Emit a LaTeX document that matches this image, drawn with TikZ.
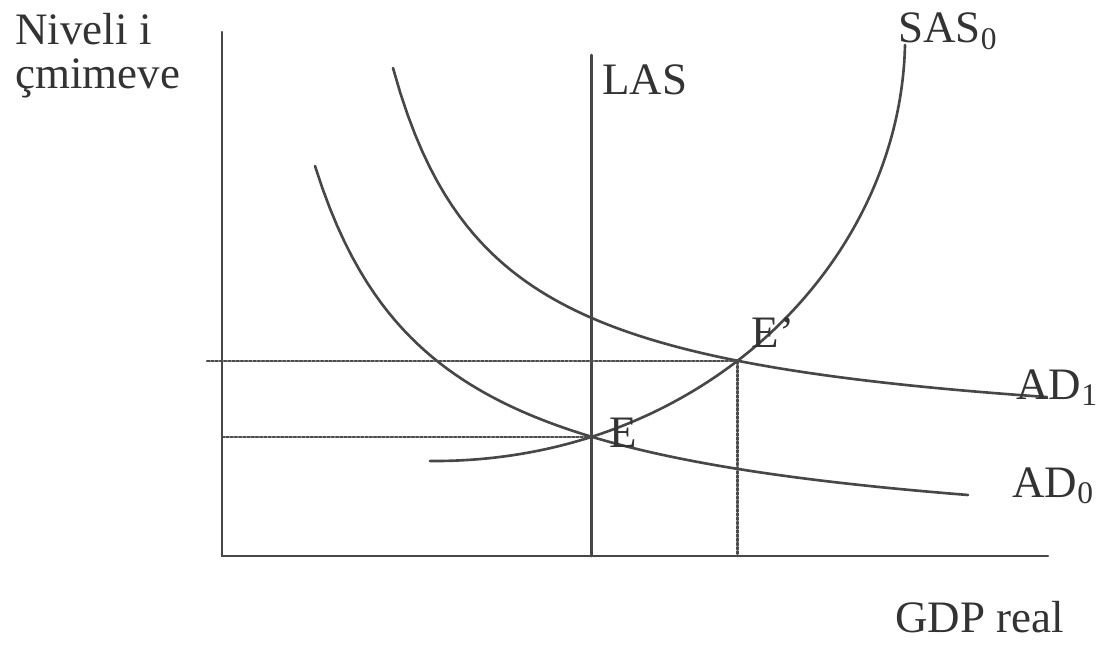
\documentclass[tikz,border=0pt]{standalone}
\usepackage{fontspec}
\setmainfont{Liberation Serif}
\usetikzlibrary{calc, intersections}

\begin{document}
\begin{tikzpicture}[x=0.02cm, y=-0.02cm, line cap=round,
    axis/.style={line width=1.3pt, draw=black!72},
    curve/.style={line width=1.5pt, draw=black!72},
    guide/.style={line width=1.4pt, densely dotted, draw=black!70},
    lbl/.style={inner sep=0pt, anchor=base west, text=black!80,
                font=\fontsize{25.6}{30}\selectfont}]
    \useasboundingbox (0,0) rectangle (1097,651);

    % --- 1. 座標軸 ---
    \coordinate (O) at (222,556);
    \coordinate (Ytop) at (222,32);
    \coordinate (Xend) at (1048,556);
    \draw[axis] (Ytop) -- (O) -- (Xend);

    % --- 2. 曲線 AD0, AD1, SAS0 ---
    \draw[curve, name path=ad0] plot[domain=315:968, samples=90]
        (\x, {556.7 - 4786.2/((\x-192.5)/10)});
    \draw[curve, name path=ad1] plot[domain=393:1047, samples=90]
        (\x, {449.7 - 3996/((\x-288.3)/10)});
    \coordinate (S_0) at (430,461);
    \coordinate (S_1) at (905,45);
    \draw[curve, name path=sas] (S_0) .. controls (700,463) and (900,265) .. (S_1);

    % --- 3. 交點 E, E' ---
    \path[name intersections={of=ad0 and sas, by=E}];
    \path[name intersections={of=ad1 and sas, by=E_1}];

    % --- 4. LAS 與虛線 ---
    \coordinate (LAS_top) at (590,55);
    \draw[curve] (E |- LAS_top) -- (E |- O);
    \coordinate (P_1) at (207,0);
    \draw[guide] (P_1 |- E_1) -- (E_1) -- (E_1 |- O);
    \draw[guide] (O |- E) -- (E);

    % --- 5. 標籤 ---
    \node[lbl] (niveli) at (15,45) {Niveli i};
    \node[lbl] (cmimeve) at (15,89) {çmimeve};
    \node[lbl] (gdp) at (895,632) {GDP real};
    \node[lbl] (las) at (602,95) {LAS};
    \node[lbl] (sas0) at (898,43) {SAS\textsubscript{0}};
    \node[lbl] (ad1lbl) at (1016,399) {AD\textsubscript{1}};
    \node[lbl] (ad0lbl) at (1012,497) {AD\textsubscript{0}};
    \node[lbl] (lE) at ($(E)+(17,11)$) {E};
    \node[lbl] (lE_1) at ($(E_1)+(14,-13)$) {E'};
\end{tikzpicture}
\end{document}
